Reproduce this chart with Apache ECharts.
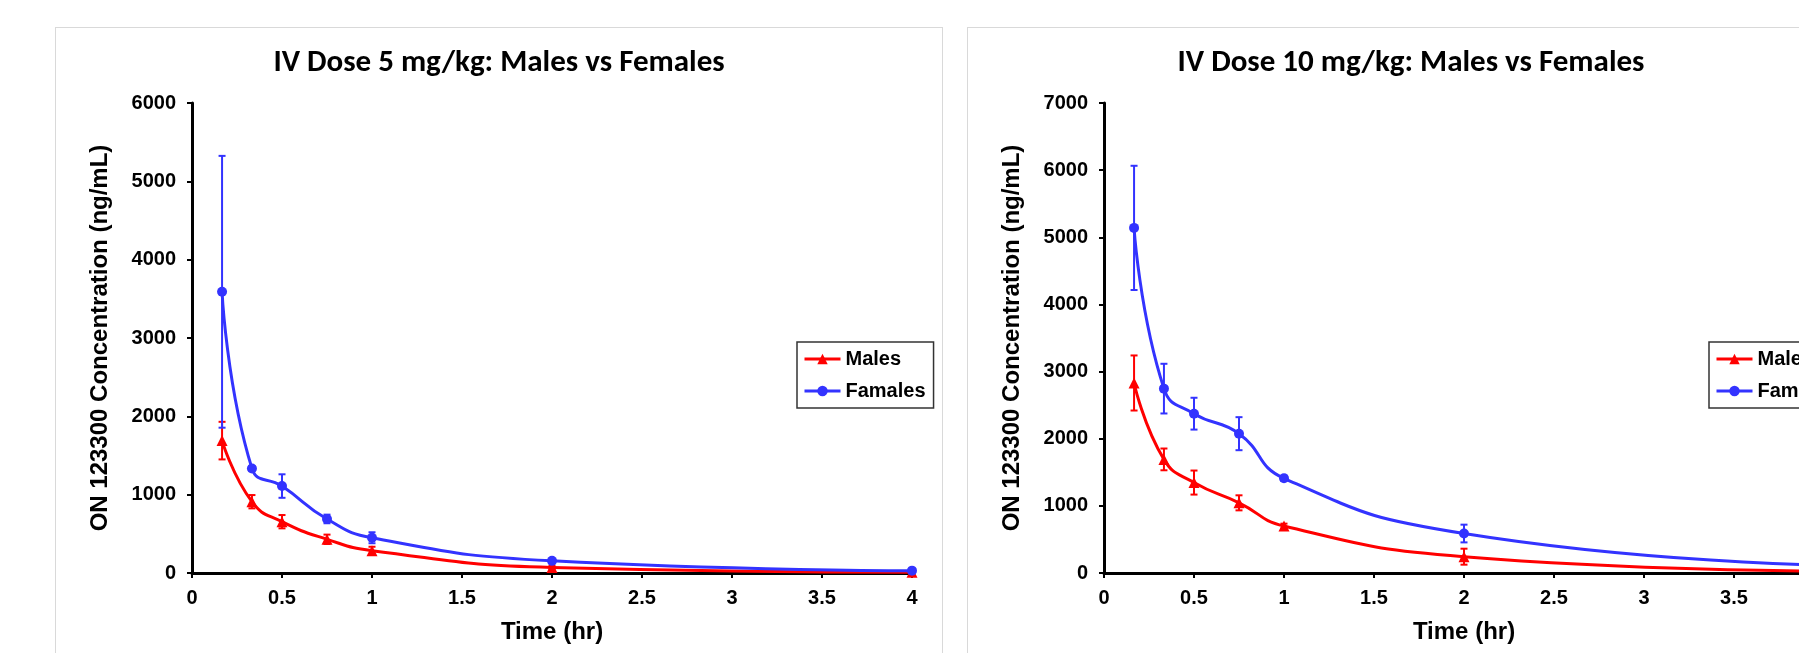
<!DOCTYPE html>
<html>
<head>
<meta charset="utf-8">
<title>IV Dose: Males vs Females</title>
<script src="https://cdn.jsdelivr.net/npm/echarts@6/dist/echarts.min.js"></script>
<style>
    html,body{margin:0;padding:0;background:#fff;overflow:hidden;width:1799px;height:653px;}
    .wrap-chart{position:absolute;top:27px;width:888px;height:700px;border:1px solid #d9d9d9;box-sizing:border-box;background:#fff;}
    #chart-5{left:55px;}
    #chart-10{left:967px;}
</style>
</head>
<body>
<div class="wrap-chart" id="chart-5"></div>
<div class="wrap-chart" id="chart-10"></div>
<script>
    // sampling times (hr)
    var times=[0.167,0.333,0.5,0.75,1,2,4];

    // 5 mg/kg, mean and SD (ng/mL)
    var males5=[1690,910,655,430,285,70,10];
    var males5Sd=[240,85,85,60,50,20,5];
    var females5=[3590,1335,1110,690,450,155,30];
    var females5Sd=[1735,30,150,55,70,25,8];

    // 10 mg/kg, mean and SD (ng/mL)
    var males10=[2830,1692,1347,1045,700,243,30];
    var males10Sd=[410,162,179,112,35,119,10];
    var females10=[5140,2746,2373,2075,1410,588,115];
    var females10Sd=[925,370,237,246,40,132,20];

    var xTicks={min:0,max:4,interval:0.5};
    var yTicks5={min:0,max:6000,interval:1000};
    var yTicks10={min:0,max:7000,interval:1000};

    var colorMale="#ff0000";
    var colorFemale="#3333ff";
    var fontLabel="'Liberation Sans', Arial, sans-serif";
    var fontTitle="Carlito, Calibri, Lato, sans-serif";

    function zip(aMean){
        var aOut=[];
        for(var i=0;i<times.length;i++){
            aOut.push([times[i],aMean[i]]);
        }
        return aOut;
    }

    function zipErr(aMean,aSd){
        var aOut=[];
        for(var i=0;i<times.length;i++){
            aOut.push([times[i],aMean[i]-aSd[i],aMean[i]+aSd[i]]);
        }
        return aOut;
    }

    function errBar(sColor){
        return function(params,api){
            var pLo=api.coord([api.value(0),api.value(1)]);
            var pHi=api.coord([api.value(0),api.value(2)]);
            var w=3.5;
            var style={stroke:sColor,lineWidth:2};
            return {
                type:'group',
                children:[
                    {type:'line',shape:{x1:pHi[0],y1:pHi[1],x2:pLo[0],y2:pLo[1]},style:style},
                    {type:'line',shape:{x1:pHi[0]-w,y1:pHi[1],x2:pHi[0]+w,y2:pHi[1]},style:style},
                    {type:'line',shape:{x1:pLo[0]-w,y1:pLo[1],x2:pLo[0]+w,y2:pLo[1]},style:style}
                ]
            };
        };
    }

    function axisStyle(){
        return {
            axisLine:{show:true,onZero:false,lineStyle:{color:"#000",width:3}},
            axisTick:{show:true,inside:false,length:5,lineStyle:{color:"#000",width:2}},
            splitLine:{show:false},
            axisLabel:{color:"#000",fontFamily:fontLabel,fontWeight:"bold",fontSize:20}
        };
    }

    function render(sId,sTitle,aMale,aMaleSd,aFemale,aFemaleSd,oYTicks){
        var oChart=echarts.init(document.getElementById(sId),null,{renderer:'canvas'});
        var xAxis=axisStyle();
        xAxis.type='value';
        xAxis.min=xTicks.min;
        xAxis.max=xTicks.max;
        xAxis.interval=xTicks.interval;
        xAxis.axisLabel.margin=15;
        xAxis.name='Time (hr)';
        xAxis.nameLocation='middle';
        xAxis.nameGap=47;
        xAxis.nameTextStyle={color:"#000",fontFamily:fontLabel,fontWeight:"bold",fontSize:24};

        var yAxis=axisStyle();
        yAxis.type='value';
        yAxis.min=oYTicks.min;
        yAxis.max=oYTicks.max;
        yAxis.interval=oYTicks.interval;
        yAxis.axisLabel.margin=16;
        yAxis.axisLabel.formatter=function(v){return String(v);};
        yAxis.name='ON 123300 Concentration (ng/mL)';
        yAxis.nameLocation='middle';
        yAxis.nameGap=80;
        yAxis.nameTextStyle={color:"#000",fontFamily:fontLabel,fontWeight:"bold",fontSize:24};

        var option={
            animation:false,
            title:{
                text:sTitle,
                left:'center',
                top:15,
                textStyle:{color:"#000",fontFamily:fontTitle,fontWeight:"bold",fontSize:31}
            },
            grid:{left:136,top:75,width:720,height:470},
            legend:{
                data:['Males','Famales'],
                orient:'vertical',
                left:741,
                top:314,
                padding:[7,8,7,6],
                itemWidth:36,
                itemHeight:13,
                itemGap:12,
                borderColor:"#333",
                borderWidth:1.5,
                lineStyle:{width:3},
                textStyle:{color:"#000",fontFamily:fontLabel,fontWeight:"bold",fontSize:20}
            },
            xAxis:xAxis,
            yAxis:yAxis,
            series:[
                {
                    name:'Males',
                    type:'line',
                    smooth:0.5,
                    symbol:'triangle',
                    symbolSize:11,
                    lineStyle:{color:colorMale,width:3},
                    itemStyle:{color:colorMale},
                    data:zip(aMale)
                },
                {
                    name:'Famales',
                    type:'line',
                    smooth:0.5,
                    symbol:'circle',
                    symbolSize:10,
                    lineStyle:{color:colorFemale,width:3},
                    itemStyle:{color:colorFemale},
                    data:zip(aFemale)
                },
                {
                    name:'MalesErr',
                    type:'custom',
                    renderItem:errBar(colorMale),
                    encode:{x:0,y:[1,2]},
                    data:zipErr(aMale,aMaleSd),
                    z:3
                },
                {
                    name:'FamalesErr',
                    type:'custom',
                    renderItem:errBar(colorFemale),
                    encode:{x:0,y:[1,2]},
                    data:zipErr(aFemale,aFemaleSd),
                    z:3
                }
            ]
        };
        oChart.setOption(option);
        return oChart;
    }

    render('chart-5','IV Dose 5 mg/kg: Males vs Females',males5,males5Sd,females5,females5Sd,yTicks5);
    render('chart-10','IV Dose 10 mg/kg: Males vs Females',males10,males10Sd,females10,females10Sd,yTicks10);
</script>
</body>
</html>
